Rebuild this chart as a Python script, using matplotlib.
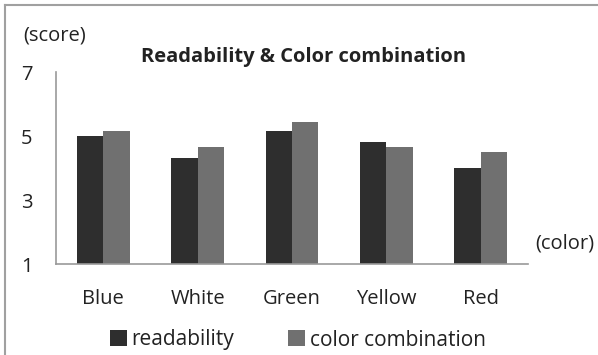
import matplotlib
matplotlib.use('Agg')
import matplotlib.pyplot as plt
from matplotlib.lines import Line2D
import numpy as np

colors = ['Blue', 'White', 'Green', 'Yellow', 'Red']
readability = [5.0, 4.3, 5.15, 4.8, 4.0]
color_combination = [5.15, 4.65, 5.45, 4.65, 4.5]
y_ticks = [1, 3, 5, 7]

DARK = '#2e2e2e'
GRAY = '#707070'
AXIS = '#999999'
TEXT = '#222222'

plt.rcParams['font.family'] = ['Open Sans', 'DejaVu Sans']

fig = plt.figure(figsize=(5.98, 3.55), dpi=100)
ax = fig.add_axes([56 / 598, 1 - 264 / 355, 472 / 598, 192 / 355])

x = np.arange(len(colors))
w = 0.28
ax.bar(x - w / 2, np.array(readability) - 1, w, bottom=1, color=DARK, label='readability')
ax.bar(x + w / 2, np.array(color_combination) - 1, w, bottom=1, color=GRAY, label='color combination')

ax.set_xlim(-0.5, len(colors) - 0.5)
ax.set_ylim(1, 7)
ax.set_yticks(y_ticks)
ax.set_xticks(x)
ax.set_xticklabels(colors)
ax.tick_params(axis='both', length=0, labelsize=14.5, colors=TEXT)
ax.tick_params(axis='y', pad=17)
ax.tick_params(axis='x', pad=18)
for side in ['top', 'right']:
  ax.spines[side].set_visible(False)
for side in ['left', 'bottom']:
  ax.spines[side].set_color(AXIS)
  ax.spines[side].set_linewidth(1.2)

fig.text(304 / 598, 1 - 57 / 355, 'Readability & Color combination', ha='center', va='center',
         fontsize=14.5, fontweight='bold', color=TEXT)
fig.text(23 / 598, 1 - 35 / 355, '(score)', ha='left', va='center', fontsize=14.5, color=TEXT)
fig.text(535 / 598, 1 - 243 / 355, '(color)', ha='left', va='center', fontsize=14.5, color=TEXT)

fig.legend(loc='center', bbox_to_anchor=(298 / 598, 1 - 340 / 355), ncol=2, frameon=False,
           fontsize=15, handlelength=0.8, handleheight=0.8, handletextpad=0.22, columnspacing=2.6,
           labelcolor=TEXT, borderaxespad=0, borderpad=0)

# outer chart frame (left and top edges)
fig.add_artist(Line2D([5 / 598, 5 / 598], [0, 1 - 5 / 355], color='#a0a0a0', lw=1.5))
fig.add_artist(Line2D([5 / 598, 1], [1 - 5 / 355, 1 - 5 / 355], color='#a0a0a0', lw=1.5))

fig.savefig('out.png', dpi=100)
